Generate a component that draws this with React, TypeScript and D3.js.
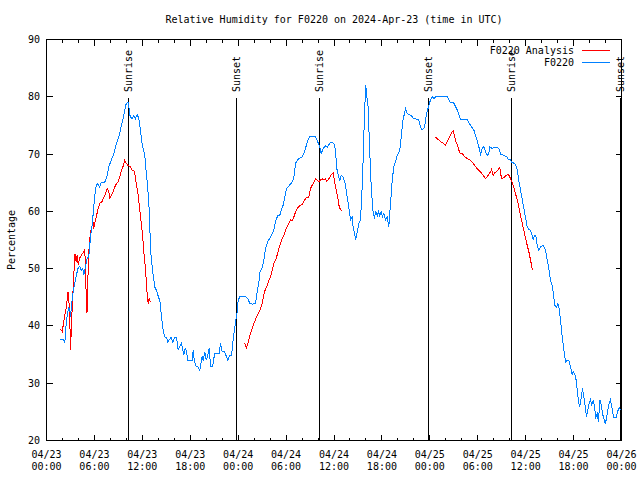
import React from 'react';
import * as d3 from 'd3';

const TITLE = 'Relative Humidity for F0220 on 2024-Apr-23 (time in UTC)';
const Y_LABEL = 'Percentage';
const seriesNames = ['F0220 Analysis', 'F0220'];
const seriesColors = ['#ff0000', '#0080ff'];

const yTicks = [20, 30, 40, 50, 60, 70, 80, 90];
const xMajorHours = [0, 6, 12, 18, 24, 30, 36, 42, 48, 54, 60, 66, 72];
const xTickDates = ['04/23', '04/23', '04/23', '04/23', '04/24', '04/24', '04/24', '04/24', '04/25', '04/25', '04/25', '04/25', '04/26'];
const xTickTimes = ['00:00', '06:00', '12:00', '18:00', '00:00', '06:00', '12:00', '18:00', '00:00', '06:00', '12:00', '18:00', '00:00'];
const xMinorHours = d3.range(0, 73, 2);

const sunHours = [10.31, 23.78, 34.22, 47.87, 58.27, 71.85];
const sunLabels = ['Sunrise', 'Sunset', 'Sunrise', 'Sunset', 'Sunrise', 'Sunset'];

// Observed F0220 (hours since 2024-04-23 00:00 UTC)
const obsHours = [1.75,2.13,2.29,2.50,2.67,2.79,2.92,3.01,3.13,3.34,3.54,3.76,3.92,4.17,4.35,4.55,4.67,4.88,5.10,5.30,5.51,5.72,5.92,6.14,6.35,6.55,6.67,6.82,7.14,7.39,7.60,7.80,8.10,8.43,8.73,9.05,9.30,9.55,9.80,9.98,10.23,10.31,10.48,10.73,10.93,11.14,11.36,11.56,11.77,11.98,12.31,12.40,12.61,12.81,12.94,13.11,13.31,13.56,13.86,14.02,14.19,14.40,14.61,14.78,15.03,15.19,15.40,15.61,15.82,16.03,16.28,16.49,16.69,16.90,17.07,17.19,17.37,17.53,17.69,18.24,18.37,18.50,18.75,19.00,19.20,19.37,19.50,19.62,19.82,20.00,20.20,20.37,20.54,20.82,21.04,21.63,21.79,22.00,22.29,22.54,22.70,22.92,23.13,23.25,23.38,23.54,23.70,23.88,24.00,24.21,24.51,24.92,25.21,25.46,25.76,26.17,26.38,26.58,26.71,27.01,27.21,27.42,27.71,27.96,28.26,28.46,28.68,28.96,29.21,29.39,29.64,29.80,30.05,30.34,30.64,30.89,31.02,31.18,31.39,31.59,32.02,32.22,32.43,32.72,32.97,33.68,33.97,34.22,34.40,34.65,34.94,35.15,35.48,35.78,36.06,36.19,36.35,36.48,36.73,36.90,37.15,37.44,37.65,37.85,38.07,38.28,38.41,38.57,38.69,38.90,39.11,39.32,39.53,39.66,39.82,39.98,40.07,40.28,40.45,40.66,40.91,41.07,41.24,41.41,41.57,41.74,41.91,42.07,42.24,42.45,42.66,42.86,43.08,43.29,43.49,43.70,43.92,44.24,44.42,44.62,44.83,44.95,45.17,45.58,45.99,46.62,46.83,47.05,47.33,47.58,47.83,48.00,48.09,48.30,48.50,48.84,50.18,50.50,51.00,51.43,51.84,52.68,53.09,53.51,53.85,54.13,54.35,54.56,54.76,54.97,55.19,55.39,55.51,55.81,56.22,56.64,56.85,57.26,57.69,57.81,58.10,58.31,58.60,58.85,58.94,59.14,59.35,59.57,59.77,59.98,60.19,60.39,60.61,60.82,60.94,61.11,61.27,61.45,61.65,61.86,62.20,62.49,62.70,62.90,63.11,63.32,63.52,63.65,63.86,64.03,64.20,64.36,64.58,64.78,64.99,65.20,65.40,65.62,65.83,65.95,66.12,66.33,66.45,66.65,66.78,66.96,67.12,67.28,67.46,67.62,67.78,67.96,68.12,68.28,68.46,68.62,68.78,68.96,69.12,69.29,69.46,69.62,69.79,69.96,70.12,70.29,70.46,70.62,70.83,71.00,71.33,71.50,71.71,71.87];
const obsRH = [37.6,37.6,37.0,41.0,42.5,43.3,42.7,41.6,43.6,46.0,47.4,48.9,50.0,50.4,49.7,50.0,48.9,50.3,51.8,52.1,55.6,57.6,60.8,64.0,64.9,64.5,64.2,65.0,65.0,65.3,66.3,67.8,68.9,70.1,71.7,73.0,74.5,75.9,77.7,78.8,79.0,78.2,76.5,76.2,76.7,76.2,76.9,76.2,74.2,71.6,69.8,68.1,65.2,61.7,57.0,51.8,49.4,46.8,45.9,45.0,44.5,41.6,39.3,38.1,38.0,37.2,37.6,38.0,37.2,38.0,38.0,35.8,36.4,37.0,35.8,34.9,36.1,35.5,34.0,34.0,35.8,34.0,32.9,32.8,32.2,33.7,34.7,33.9,35.5,34.0,34.9,36.1,33.0,33.0,35.1,35.1,37.0,35.5,35.5,34.6,34.0,34.9,34.9,35.8,37.8,39.3,41.0,42.5,44.5,45.1,45.2,45.1,44.8,43.9,43.8,43.9,46.0,47.4,49.4,50.2,51.5,53.5,54.7,55.3,56.1,56.7,58.2,59.3,59.3,60.2,61.1,62.2,64.0,64.4,64.9,65.6,66.3,68.4,68.9,69.2,69.5,70.1,71.0,72.4,73.1,73.0,72.1,71.3,70.1,71.0,71.4,71.2,71.9,72.1,71.6,70.4,67.5,66.6,65.4,66.3,66.0,64.6,62.5,60.8,58.5,59.0,57.0,56.4,55.0,56.4,57.9,58.5,64.3,69.5,77.1,82.0,80.6,78.2,71.3,64.3,59.6,59.0,59.9,59.2,59.9,59.2,59.9,59.1,59.6,58.5,59.0,57.3,61.4,65.4,67.8,68.6,69.8,70.7,73.0,75.9,77.1,78.0,77.1,76.8,76.2,76.0,74.7,74.2,74.6,77.1,78.2,79.1,79.4,80.0,79.7,80.1,80.1,79.1,78.9,77.7,76.0,76.0,75.0,74.2,72.7,71.3,70.0,71.0,71.3,70.4,69.8,70.1,71.2,71.0,71.2,71.0,70.0,69.8,69.5,69.0,69.0,68.5,68.4,67.8,67.2,65.4,63.7,62.2,60.5,59.0,57.3,56.8,56.7,55.8,55.0,55.8,55.8,54.1,53.2,53.8,54.1,53.2,51.5,50.0,48.0,47.1,45.1,43.6,43.3,43.9,43.0,41.0,38.1,35.8,33.7,34.0,34.0,32.9,31.4,32.0,31.7,30.5,28.8,26.5,25.9,27.6,29.1,27.6,25.9,24.1,25.3,26.5,27.1,26.2,27.1,25.9,24.1,24.7,23.3,27.1,26.2,24.7,23.8,23.0,23.8,25.3,26.5,27.1,25.6,24.1,24.1,25.0,25.8,25.3];

// F0220 Analysis, three daily runs
const anaHours1 = [1.75,1.97,2.09,2.25,2.50,2.69,2.88,3.01,3.13,3.28,3.42,3.57,3.72,3.85,3.97,4.13,4.38,4.55,4.67,4.80,4.88,4.97,5.07,5.17,5.30,5.42,5.64,5.85,5.92,6.05,6.22,6.47,6.67,6.97,7.18,7.39,7.60,7.80,7.93,8.14,8.35,8.64,8.98,9.18,9.39,9.60,9.80,10.02,10.23,10.48,10.73,11.02,11.23,11.48,11.68,11.90,12.06,12.18,12.40,12.52,12.65,12.73,12.86,12.99];
const anaRH1 = [39.5,39.0,40.1,41.6,43.3,46.0,43.0,35.8,40.4,45.0,49.0,52.5,51.2,52.4,50.6,51.8,52.4,52.7,53.0,53.4,49.4,45.4,42.2,47.7,53.0,55.3,57.3,57.9,57.0,57.9,59.0,60.5,61.4,61.7,62.5,63.1,64.0,63.4,62.3,62.8,63.4,64.6,65.2,66.0,67.2,67.9,68.9,68.3,68.0,67.8,67.2,67.0,64.9,62.8,60.2,57.6,55.3,53.0,50.0,47.1,44.8,43.9,44.8,44.2];
const anaHours2 = [24.79,25.05,25.33,25.55,25.76,26.05,26.30,26.58,26.80,27.01,27.21,27.42,27.64,27.84,28.05,28.26,28.46,28.68,28.89,29.09,29.30,29.51,29.72,29.93,30.14,30.34,30.55,30.77,30.97,31.18,31.39,31.59,31.81,32.02,32.22,32.43,32.64,32.85,32.97,33.15,33.40,33.68,33.90,34.10,34.31,34.52,34.73,34.94,35.06,35.23,35.48,35.78,35.90,35.98,36.19,36.40,36.53,36.65,36.82,36.98];
const anaRH2 = [37.0,36.2,37.5,38.7,39.6,40.7,41.6,42.3,43.0,43.9,45.4,46.5,47.1,48.0,48.6,49.7,50.9,51.5,52.4,53.5,54.4,55.3,55.8,56.7,57.3,57.9,58.5,58.4,59.0,59.9,60.5,60.8,61.1,61.2,61.7,62.2,62.5,62.5,63.4,64.3,64.9,65.7,65.4,65.2,65.5,65.7,65.5,65.7,65.2,65.4,66.0,66.6,66.7,66.0,64.3,62.8,62.0,60.8,60.3,60.1];
const anaHours3 = [48.71,48.92,49.34,49.96,50.38,50.80,50.93,51.22,51.50,51.75,52.05,52.34,52.68,53.09,53.43,53.72,54.01,54.35,54.68,54.97,55.19,55.39,55.60,55.72,55.94,56.10,56.35,56.56,56.76,56.94,57.06,57.35,57.60,57.81,58.01,58.19,58.35,58.51,58.73,58.94,59.14,59.35,59.57,59.77,59.98,60.19,60.39,60.61,60.82,60.94];
const anaRH3 = [73.0,72.7,72.2,71.6,72.7,73.9,74.1,72.4,71.3,70.2,70.1,69.6,69.2,68.9,68.4,67.8,67.3,66.9,66.3,65.7,66.0,66.5,66.9,67.3,66.3,66.7,66.9,67.3,67.7,66.0,65.7,66.0,66.3,66.5,66.0,65.4,64.9,64.3,63.1,62.0,60.8,59.3,57.9,56.7,55.3,54.1,53.0,51.5,50.0,49.7];

const W = 640;
const H = 480;
const L = 46.5, R = 621.5, T = 39.5, B = 440.5;
const FONT = '"DejaVu Sans Mono", "Liberation Mono", monospace';

export default function App() {
  const x = d3.scaleLinear().domain([0, 72]).range([L, R]);
  const y = d3.scaleLinear().domain([20, 90]).range([B, T]);
  const line = d3.line<[number, number]>().x(d => x(d[0])).y(d => y(d[1]));
  const zip = (a: number[], b: number[]) => a.map((h, i) => [h, b[i]] as [number, number]);

  const obs = zip(obsHours, obsRH);
  const ana = [zip(anaHours1, anaRH1), zip(anaHours2, anaRH2), zip(anaHours3, anaRH3)];

  return (
    <svg width={W} height={H} style={{ position: 'absolute', left: 0, top: 0, background: '#fff' }}
      fontFamily={FONT} fontSize={10}>
      <rect x={0} y={0} width={W} height={H} fill="#fff" />
      <text x={(L + R) / 2} y={23} textAnchor="middle" fill="#000">{TITLE}</text>

      {/* y ticks */}
      {yTicks.map(v => (
        <g key={'y' + v}>
          <line x1={L} x2={L + 6} y1={Math.round(y(v) - 0.5) + 0.5} y2={Math.round(y(v) - 0.5) + 0.5} stroke="#000" shapeRendering="crispEdges" />
          <line x1={R - 6} x2={R} y1={Math.round(y(v) - 0.5) + 0.5} y2={Math.round(y(v) - 0.5) + 0.5} stroke="#000" shapeRendering="crispEdges" />
          <text x={40} y={y(v)} dy="0.35em" textAnchor="end" fill="#000">{v}</text>
        </g>
      ))}

      {/* x minor ticks */}
      {xMinorHours.map(h => {
        const major = h % 6 === 0;
        const len = major ? 6 : 3;
        const xx = Math.round(x(h) - 0.5) + 0.5;
        return (
          <g key={'xm' + h}>
            <line x1={xx} x2={xx} y1={B} y2={B - len} stroke="#000" shapeRendering="crispEdges" />
            <line x1={xx} x2={xx} y1={T} y2={T + len} stroke="#000" shapeRendering="crispEdges" />
          </g>
        );
      })}
      {xMajorHours.map((h, i) => (
        <g key={'xl' + h}>
          <text x={x(h)} y={458} textAnchor="middle" fill="#000">{xTickDates[i]}</text>
          <text x={x(h)} y={470} textAnchor="middle" fill="#000">{xTickTimes[i]}</text>
        </g>
      ))}

      <text transform={`translate(15,240) rotate(-90)`} textAnchor="middle" fill="#000">{Y_LABEL}</text>

      {/* sunrise / sunset */}
      {sunHours.map((h, i) => {
        const xx = Math.round(x(h) - 0.5) + 0.5;
        return (
          <g key={'s' + i}>
            <line x1={xx} x2={xx} y1={98} y2={B} stroke="#000" shapeRendering="crispEdges" />
            <text transform={`translate(${xx},92) rotate(-90)`} dy="0.35em" textAnchor="start" fill="#000">{sunLabels[i]}</text>
          </g>
        );
      })}

      {/* data */}
      {ana.map((seg, i) => (
        <path key={'a' + i} d={line(seg) || ''} fill="none" stroke={seriesColors[0]} strokeWidth={1} shapeRendering="crispEdges" />
      ))}
      <path d={line(obs) || ''} fill="none" stroke={seriesColors[1]} strokeWidth={1} shapeRendering="crispEdges" />

      {/* border */}
      <rect x={L} y={T} width={R - L} height={B - T} fill="none" stroke="#000" shapeRendering="crispEdges" />

      {/* legend */}
      {seriesNames.map((n, i) => (
        <g key={'lg' + i}>
          <text x={574} y={50 + i * 12} dy="0.35em" textAnchor="end" fill="#000">{n}</text>
          <line x1={582} x2={610} y1={50.5 + i * 12} y2={50.5 + i * 12} stroke={seriesColors[i]} shapeRendering="crispEdges" />
        </g>
      ))}
    </svg>
  );
}
